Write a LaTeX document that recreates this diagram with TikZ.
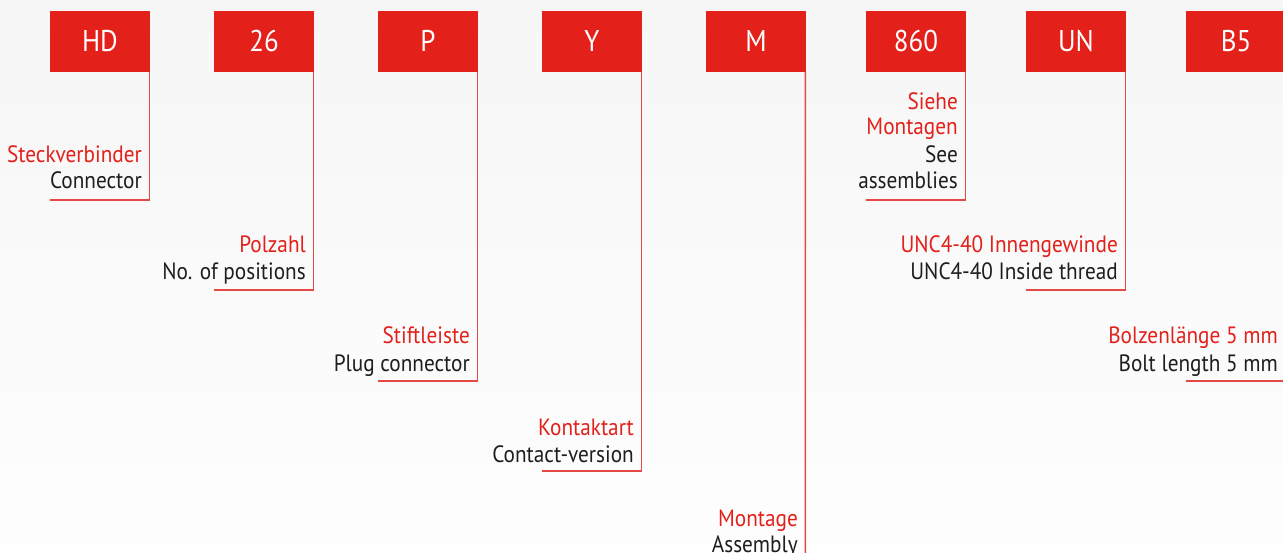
\documentclass[tikz,border=0pt]{standalone}
\usepackage{fontspec}
\setmainfont{PT Sans}[FakeStretch=0.9]
\definecolor{fred}{RGB}{227,32,26}
\definecolor{lred}{RGB}{230,72,70}
\definecolor{txt}{RGB}{30,30,32}
\begin{document}
\begin{tikzpicture}[x=1pt,y=-1pt,
  codebox/.style={fill=fred,minimum width=100pt,minimum height=61pt,inner sep=0pt,
    text=white,font=\fontsize{30}{30}\selectfont,text height=21pt,text depth=0pt},
  de/.style={anchor=base east,inner sep=0pt,text=fred,font=\fontsize{23.6}{26}\selectfont},
  en/.style={anchor=base east,inner sep=0pt,text=txt,font=\fontsize{23.6}{26}\selectfont},
  conn/.style={draw=lred,line width=1.5pt}]
\useasboundingbox (0,0) rectangle (1283,553);
\clip (0,0) rectangle (1283,553);
\shade[top color=gray!7,bottom color=gray!1] (0,0) rectangle (1283,553);
% code boxes
\node[codebox] (hd) at (100,41.5) {HD};
\node[codebox] (n26) at (264,41.5) {26};
\node[codebox] (p) at (428,41.5) {P};
\node[codebox] (y) at (592,41.5) {Y};
\node[codebox] (m) at (756,41.5) {M};
\node[codebox] (n860) at (916,41.5) {860};
\node[codebox] (un) at (1076,41.5) {UN};
\node[codebox] (b5) at (1236,41.5) {B5};
% end points
\coordinate (hdend) at (50,200);
\coordinate (n26end) at (214,290);
\coordinate (pend) at (378,381);
\coordinate (yend) at (542,471);
\coordinate (mend) at (805.25,570);
\coordinate (n860end) at (866,200);
\coordinate (unend) at (1026,290);
\coordinate (b5end) at (1186,381);
% connectors
\draw[conn] ([xshift=-0.75pt]hd.south east) |- (hdend);
\draw[conn] ([xshift=-0.75pt]n26.south east) |- (n26end);
\draw[conn] ([xshift=-0.75pt]p.south east) |- (pend);
\draw[conn] ([xshift=-0.75pt]y.south east) |- (yend);
\draw[conn] ([xshift=-0.75pt]m.south east) -- (mend);
\draw[conn] ([xshift=-0.75pt]n860.south east) |- (n860end);
\draw[conn] ([xshift=-0.75pt]un.south east) |- (unend);
\draw[conn] ([xshift=-0.75pt]b5.south east) |- (b5end);
% labels
\node[de] (hdde) at (142,163) {Steckverbinder};
\node[en] (hden) at (142,189) {Connector};
\node[de] (n26de) at (306,253) {Polzahl};
\node[en] (n26en) at (306,280) {No. of positions};
\node[de] (pde) at (470,344) {Stiftleiste};
\node[en] (pen) at (470,371) {Plug connector};
\node[de] (yde) at (634,435) {Kontaktart};
\node[en] (yen) at (634,462) {Contact-version};
\node[de] (mde) at (798,526) {Montage};
\node[en] (men) at (798,552) {Assembly};
\node[de] (n860de1) at (958,110) {Siehe};
\node[de] (n860de2) at (958,135) {Montagen};
\node[en] (n860en1) at (958,163) {See};
\node[en] (n860en2) at (958,189) {assemblies};
\node[de] (unde) at (1118,253) {UNC4-40 Innengewinde};
\node[en] (unen) at (1118,280) {UNC4-40 Inside thread};
\node[de] (b5de) at (1278,344) {Bolzenlänge 5 mm};
\node[en] (b5en) at (1278,371) {Bolt length 5 mm};
\end{tikzpicture}
\end{document}
